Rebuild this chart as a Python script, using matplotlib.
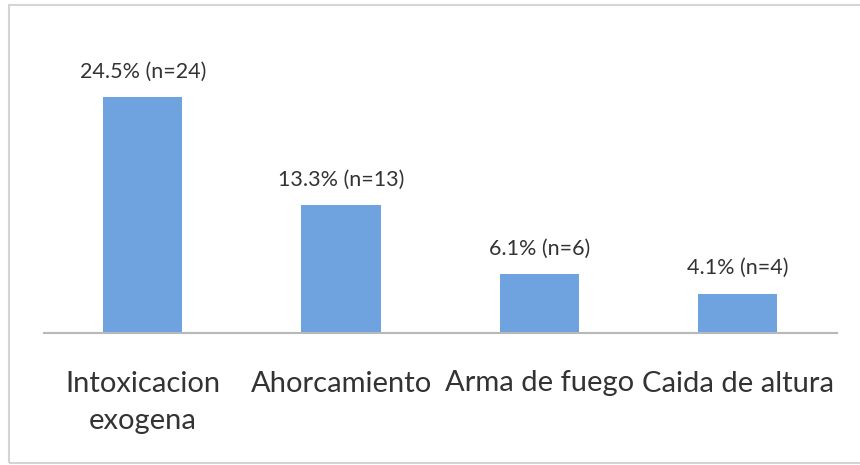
import matplotlib
matplotlib.use("Agg")
import matplotlib.pyplot as plt
from matplotlib.patches import Rectangle

categories = ["Intoxicacion\nexogena", "Ahorcamiento", "Arma de fuego", "Caida de altura"]
percent = [24.5, 13.3, 6.1, 4.1]
counts = [24, 13, 6, 4]

plt.rcParams['font.family'] = ['Lato', 'DejaVu Sans']

fig = plt.figure(figsize=(8.6, 4.65), dpi=100)
W, H = 860, 465
ax = fig.add_axes([43.5 / W, 132 / H, (837 - 43.5) / W, (333 - 44) / H])

x = list(range(len(categories)))
bars = ax.bar(x, percent, width=0.40, color='#6fa3e0', zorder=2)
ax.set_xlim(-0.5, len(categories) - 0.5)
ax.set_ylim(0, 30)

for xi, p, n in zip(x, percent, counts):
    ax.annotate(f"{p}% (n={n})", xy=(xi, p), xytext=(0, 11), textcoords='offset points',
                ha='center', va='bottom', fontsize=15.5, color='#333333')

ax.set_xticks(x)
ax.set_xticklabels(categories, fontsize=21, color='#333333', linespacing=1.55)
ax.tick_params(axis='x', length=0, pad=27)
ax.set_yticks([])
for s in ['top', 'right', 'left']:
    ax.spines[s].set_visible(False)
ax.spines['bottom'].set_color('#b8b8b8')
ax.spines['bottom'].set_linewidth(1.5)

fig.patches.append(Rectangle((9 / W, 2 / H), 1.0, (463 - 5) / H, transform=fig.transFigure,
                             fill=False, edgecolor='#d4d4d4', linewidth=1.5))

fig.savefig("out.png", dpi=100)
